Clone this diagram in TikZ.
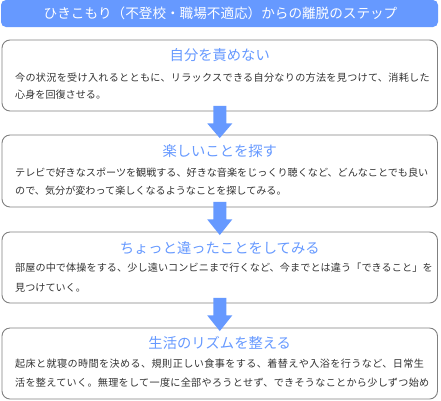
\documentclass[tikz,border=0pt]{standalone}
\usepackage{fontspec}
\setmainfont{Noto Sans CJK JP}
\usetikzlibrary{calc}
\definecolor{bluec}{HTML}{6699FF}
\definecolor{bodyc}{HTML}{333333}
\definecolor{borderc}{HTML}{808080}
\tikzset{
  x=1pt,y=1pt,
  titlebar/.style={fill=bluec, rounded corners=5pt, inner sep=0pt, minimum width=437pt, minimum height=27pt},
  titletext/.style={text=white, font=\fontsize{13.6}{16}\selectfont, inner sep=0pt, anchor=base},
  stepbox/.style={draw=borderc, line width=0.9pt, rounded corners=8pt, fill=white, inner sep=0pt, minimum width=435.5pt},
  headtext/.style={text=bluec, font=\fontsize{14.3}{17}\selectfont, inner sep=0pt, anchor=base},
  bodytext/.style={text=bodyc, font=\fontsize{10.1}{12}\selectfont, inner sep=0pt, anchor=base west},
  wide/.style={font=\fontsize{10.1}{12}\selectfont\addfontfeature{LetterSpace=#1}},
  blockarrow/.style={fill=bluec, draw=none}
}
\newcommand{\stepArrow}[2]{%
  \fill[blockarrow] ($(#1.south)+(-6.5,5.5)$) -- ($(#1.south)+(6.5,5.5)$)
    -- ($(#1.south)+(6.5,-12)$) -- ($(#1.south)+(12.5,-12)$)
    -- ($(#2.north)+(0,-3.5)$)
    -- ($(#1.south)+(-12.5,-12)$) -- ($(#1.south)+(-6.5,-12)$) -- cycle;}
\begin{document}
\begin{tikzpicture}
\useasboundingbox (0,0) rectangle (441,-400);
% title
\node[titlebar] (tb) at (219.5,-13.5) {};
\node[titletext] (tt) at (220.5,-18.5) {ひきこもり（不登校・職場不適応）からの離脱のステップ};
% boxes
\node[stepbox, minimum height=71pt] (b1) at (219.75,-75.5) {};
\node[stepbox, minimum height=72pt] (b2) at (219.75,-171) {};
\node[stepbox, minimum height=71pt] (b3) at (219.75,-267.5) {};
\node[stepbox, minimum height=71pt] (b4) at (219.75,-363.5) {};
% arrows
\stepArrow{b1}{b2}
\stepArrow{b2}{b3}
\stepArrow{b3}{b4}
% box 1
\node[headtext] (h1) at (219.75,-60.4) {自分を責めない};
\node[bodytext, wide=3] (t1a) at (15,-81.5) {今の状況を受け入れるとともに、リラックスできる自分なりの方法を見つけて、消耗した};
\node[bodytext] (t1b) at (15,-98.8) {心身を回復させる。};
% box 2
\node[headtext] (h2) at (219.75,-156.1) {楽しいことを探す};
\node[bodytext] (t2a) at (15,-176.5) {テレビで好きなスポーツを観戦する、好きな音楽をじっくり聴くなど、どんなことでも良い};
\node[bodytext] (t2b) at (15,-194.8) {ので、気分が変わって楽しくなるようなことを探してみる。};
% box 3
\node[headtext] (h3) at (219.75,-253.1) {ちょっと違ったことをしてみる};
\node[bodytext, wide=1] (t3a) at (15,-271.8) {部屋の中で体操をする、少し遠いコンビニまで行くなど、今までとは違う「できること」を};
\node[bodytext] (t3b) at (15,-291.5) {見つけていく。};
% box 4
\node[headtext] (h4) at (219.75,-348.4) {生活のリズムを整える};
\node[bodytext, wide=4] (t4a) at (15,-367.8) {起床と就寝の時間を決める、規則正しい食事をする、着替えや入浴を行うなど、日常生};
\node[bodytext, wide=3] (t4b) at (15,-386.5) {活を整えていく。無理をして一度に全部やろうとせず、できそうなことから少しずつ始め};
\end{tikzpicture}
\end{document}
